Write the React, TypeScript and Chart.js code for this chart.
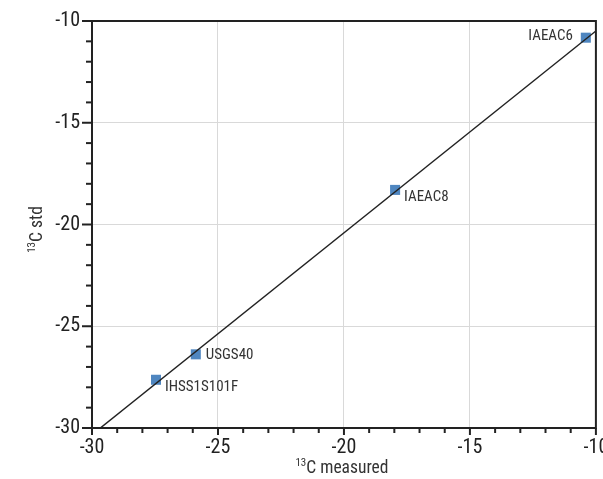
import React, { useEffect, useRef } from "react";
import { Chart, registerables } from "chart.js";

Chart.register(...registerables);

const sampleNames = ["IAEAC6", "IAEAC8", "USGS40", "IHSS1S101F"];
const measured = [-10.4, -17.97, -25.88, -27.46];
const standard = [-10.82, -18.3, -26.38, -27.63];
const fitLineX = [-29.67, -10];
const fitLineY = [-30, -10.49];
const axisMin = -30;
const axisMax = -10;
const majorStep = 5;
const minorStep = 1;
const xTitle = "C measured";
const yTitle = "C std";
const titleSup = "13";

const FONT = "'Liberation Sans Narrow', 'Roboto Condensed', 'DejaVu Sans Condensed', sans-serif";
const DARK = "#222222";
const POINT_COLOR = "#4f86c0";

// label placement relative to point (dx, dy, align)
const labelPlacement: Record<string, [number, number, CanvasTextAlign]> = {
  IAEAC6: [-13, -1, "right"],
  IAEAC8: [9, 7, "left"],
  USGS40: [10, 1, "left"],
  IHSS1S101F: [9, 7, "left"],
};

const decorPlugin = {
  id: "decor",
  afterDraw(chart: any) {
    const { ctx, chartArea, scales } = chart;
    const xs = scales.x;
    const ys = scales.y;
    ctx.save();
    // top & right border
    ctx.strokeStyle = DARK;
    ctx.lineWidth = 2;
    ctx.beginPath();
    ctx.moveTo(chartArea.left - 1, chartArea.top);
    ctx.lineTo(chartArea.right, chartArea.top);
    ctx.lineTo(chartArea.right, chartArea.bottom + 1);
    ctx.stroke();

    // tick marks
    for (let v = axisMin; v <= axisMax + 1e-9; v += minorStep) {
      const major = Math.abs(v % majorStep) < 1e-9;
      const px = xs.getPixelForValue(v);
      ctx.beginPath();
      ctx.moveTo(px, chartArea.bottom);
      ctx.lineTo(px, chartArea.bottom + (major ? 7 : 5));
      ctx.stroke();
      const py = ys.getPixelForValue(v);
      ctx.beginPath();
      ctx.moveTo(chartArea.left, py);
      ctx.lineTo(chartArea.left - (major ? 10 : 6), py);
      ctx.stroke();
    }

    // point labels
    const meta = chart.getDatasetMeta(1);
    ctx.fillStyle = "#333333";
    ctx.font = `15px ${FONT}`;
    ctx.textBaseline = "middle";
    meta.data.forEach((el: any, i: number) => {
      const name = sampleNames[i];
      const [dx, dy, align] = labelPlacement[name] || [9, 0, "left"];
      ctx.textAlign = align;
      ctx.fillText(name, el.x + dx, el.y + dy);
    });

    // axis titles with superscript
    const drawTitle = (cx: number, cy: number, rot: number, text: string) => {
      ctx.save();
      ctx.translate(cx, cy);
      ctx.rotate(rot);
      ctx.fillStyle = "#333333";
      ctx.textBaseline = "alphabetic";
      ctx.textAlign = "left";
      ctx.font = `11px ${FONT}`;
      const supW = ctx.measureText(titleSup).width;
      ctx.font = `17.5px ${FONT}`;
      const mainW = ctx.measureText(text).width;
      const total = supW + mainW;
      const sx = -total / 2;
      ctx.font = `11px ${FONT}`;
      ctx.fillText(titleSup, sx, -1);
      ctx.font = `17.5px ${FONT}`;
      ctx.fillText(text, sx + supW, 6);
      ctx.restore();
    };
    drawTitle((chartArea.left + chartArea.right) / 2 - 2, 467, 0, xTitle);
    drawTitle(36, (chartArea.top + chartArea.bottom) / 2 + 5, -Math.PI / 2, yTitle);
    ctx.restore();
  },
};

export default function App() {
  const ref = useRef<HTMLCanvasElement | null>(null);
  useEffect(() => {
    if (!ref.current) return;
    const tickCb = (v: any) => (Math.abs(Number(v) % majorStep) < 1e-9 ? String(v) : "");
    const gridColor = (c: any) =>
      c.tick && Math.abs(c.tick.value % majorStep) < 1e-9 ? "#d9d9d9" : "rgba(0,0,0,0)";
    const chart = new Chart(ref.current, {
      type: "scatter",
      data: {
        datasets: [
          {
            type: "line",
            data: fitLineX.map((x, i) => ({ x, y: fitLineY[i] })),
            borderColor: DARK,
            borderWidth: 1.5,
            pointRadius: 0,
            fill: false,
          } as any,
          {
            data: measured.map((x, i) => ({ x, y: standard[i] })),
            pointStyle: "rect",
            pointRadius: 7.1,
            backgroundColor: POINT_COLOR,
            borderColor: POINT_COLOR,
            borderWidth: 0,
          },
        ],
      },
      plugins: [decorPlugin],
      options: {
        responsive: false,
        animation: false,
        layout: { padding: { top: 21, right: 6, left: 0, bottom: 0 } },
        plugins: { legend: { display: false }, tooltip: { enabled: false } },
        scales: {
          x: {
            type: "linear",
            min: axisMin,
            max: axisMax,
            afterFit: (s: any) => {
              s.height = 51;
              s.paddingLeft = 0;
              s.paddingRight = 0;
            },
            ticks: {
              stepSize: minorStep,
              autoSkip: false,
              maxRotation: 0,
              callback: tickCb,
              font: { family: FONT, size: 20 },
              color: DARK,
              padding: 8,
            },
            grid: { color: gridColor, drawTicks: false, lineWidth: 1 },
            border: { display: true, color: DARK, width: 2 },
          },
          y: {
            type: "linear",
            min: axisMin,
            max: axisMax,
            afterFit: (s: any) => {
              s.width = 92;
              s.paddingTop = 0;
              s.paddingBottom = 0;
            },
            ticks: {
              stepSize: minorStep,
              autoSkip: false,
              callback: tickCb,
              font: { family: FONT, size: 20 },
              color: DARK,
              padding: 12,
            },
            grid: { color: gridColor, drawTicks: false, lineWidth: 1 },
            border: { display: true, color: DARK, width: 2 },
          },
        },
      },
    } as any);
    return () => chart.destroy();
  }, []);
  return (
    <div style={{ position: "fixed", left: 0, top: 0, width: 603, height: 479, background: "#fff" }}>
      <canvas ref={ref} width={603} height={479} style={{ width: 603, height: 479 }} />
    </div>
  );
}
